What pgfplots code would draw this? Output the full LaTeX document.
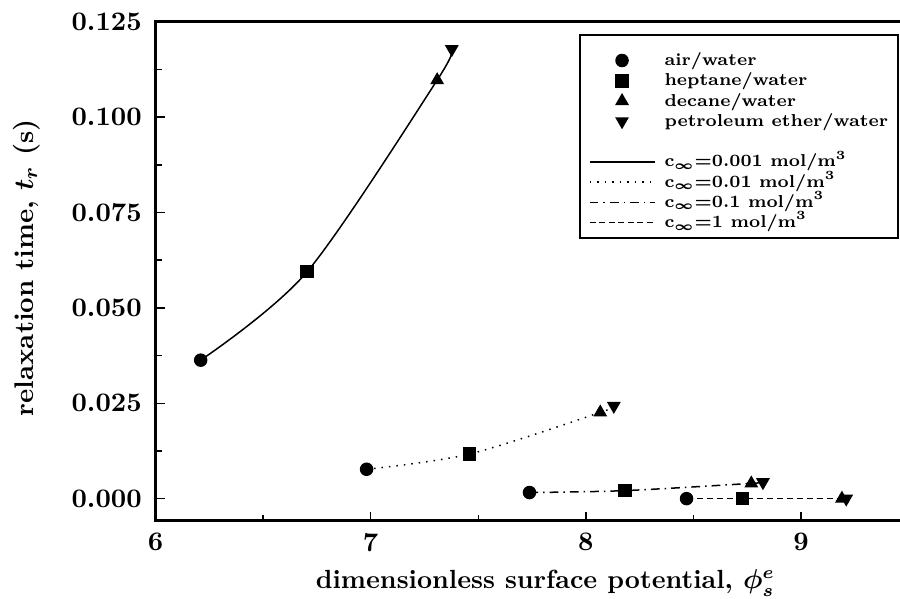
\documentclass[border=0pt]{standalone}
\usepackage{pgfplots}
\pgfplotsset{compat=1.18}
\usetikzlibrary{calc}

\begin{document}
\begin{tikzpicture}
\begin{axis}[
    scale only axis,
    width=297.8pt,
    height=199.6pt,
    xmin=6, xmax=9.46,
    ymin=-0.0058, ymax=0.125,
    xtick={6,7,8,9},
    ytick={0,0.025,0.05,0.075,0.1,0.125},
    minor x tick num=1,
    minor y tick num=1,
    tick pos=left,
    tick align=inside,
    major tick length=3.6pt,
    minor tick length=2.4pt,
    every tick/.style={black, line width=0.6pt},
    scaled y ticks=false,
    yticklabel style={/pgf/number format/fixed, /pgf/number format/fixed zerofill,
        /pgf/number format/precision=3, xshift=-2pt},
    /pgf/number format/assume math mode=true,
    ticklabel style={font=\fontsize{10.7}{12}\selectfont\bfseries},
    xticklabel style={yshift=-1.5pt},
    axis line style={draw=none},
    xlabel={dimensionless surface potential, $\phi_s^e$},
    ylabel={relaxation time, $t_r$ (s)},
    xlabel style={font=\fontsize{10.5}{12}\selectfont\bfseries\boldmath,
        at={(axis description cs:0.2035,-0.1348)}, anchor=base west},
    ylabel style={font=\fontsize{10.8}{12}\selectfont\bfseries\boldmath,
        at={(axis description cs:-0.1645,0.1919)}, anchor=base west},
    legimg/.style={legend image code/.code={%
        \pgfpathmoveto{\pgfpoint{0pt}{-2pt}}\pgfpathlineto{\pgfpoint{26pt}{2pt}}\pgfusepath{discard}%
        \draw[mark repeat=2,mark phase=2,##1] plot coordinates {(0pt,0pt) (13pt,0pt) (26pt,0pt)};}},
    legempty/.style={legend image code/.code={%
        \pgfpathmoveto{\pgfpoint{0pt}{-2pt}}\pgfpathlineto{\pgfpoint{26pt}{2pt}}\pgfusepath{discard}}},
    legimg,
    legend style={at={(0.5813,0.9434)}, anchor=north west, draw=none, fill=none,
        font=\fontsize{6.9}{8}\selectfont\bfseries\boldmath, inner xsep=0pt, inner ysep=0pt,
        nodes={inner xsep=1.5pt, inner ysep=0.5pt, text height=5.5pt, text depth=1.5pt},
        row sep=0.1pt, column sep=2.2pt},
    legend cell align=left,
    every axis plot/.append style={line width=0.6pt},
    mark size=2.4pt,
]
% curves, one per bulk concentration
\addplot[black, smooth, forget plot] coordinates {(6.21,0.0363) (6.705,0.0595) (7.309,0.1097) (7.377,0.1178)};
\addplot[black, smooth, dash pattern=on 0.6pt off 2.4pt, forget plot] coordinates {(6.981,0.0077) (7.46,0.0117) (8.067,0.0226) (8.13,0.0243)};
\addplot[black, smooth, dash pattern=on 3.5pt off 2pt on 0.6pt off 2pt, forget plot] coordinates {(7.738,0.0016) (8.181,0.0021) (8.769,0.0040) (8.823,0.0043)};
\addplot[black, smooth, dash pattern=on 2.4pt off 1.6pt, forget plot] coordinates {(8.468,0.0000) (8.727,0.0000) (9.19,0.0000) (9.21,0.0000)};
% markers, one per interface
\addplot[black, only marks, mark=*, forget plot] coordinates {(6.21,0.0363) (6.981,0.0077) (7.738,0.0016) (8.468,0.0000)};
\addplot[black, only marks, mark=square*, forget plot] coordinates {(6.705,0.0595) (7.46,0.0117) (8.181,0.0021) (8.727,0.0000)};
\addplot[black, only marks, mark=triangle*, mark size=2.6pt, forget plot] coordinates {(7.309,0.1097) (8.067,0.0226) (8.769,0.0040) (9.19,0.0000)};
\addplot[black, only marks, mark=triangle*, mark size=2.6pt, mark options={rotate=180}, forget plot] coordinates {(7.377,0.1178) (8.13,0.0243) (8.823,0.0043) (9.21,0.0000)};
% legend
\addlegendimage{black, only marks, mark=*, legimg}
\addlegendentry{air/water}
\addlegendimage{black, only marks, mark=square*, legimg}
\addlegendentry{heptane/water}
\addlegendimage{black, only marks, mark=triangle*, mark size=2.6pt, legimg}
\addlegendentry{decane/water}
\addlegendimage{black, only marks, mark=triangle*, mark size=2.6pt, mark options={rotate=180}, legimg}
\addlegendentry{petroleum ether/water}
\addlegendimage{legempty}
\addlegendentry{}
\addlegendimage{black, line width=0.6pt}
\addlegendentry{c$_\infty$=0.001 mol/m$^3$}
\addlegendimage{black, line width=0.6pt, dash pattern=on 0.6pt off 2.4pt}
\addlegendentry{c$_\infty$=0.01 mol/m$^3$}
\addlegendimage{black, line width=0.6pt, dash pattern=on 3.5pt off 2pt on 0.6pt off 2pt}
\addlegendentry{c$_\infty$=0.1 mol/m$^3$}
\addlegendimage{black, line width=0.6pt, dash pattern=on 2.4pt off 1.4pt}
\addlegendentry{c$_\infty$=1 mol/m$^3$}
\end{axis}
\draw[line width=1.1pt] ($(current axis.north east)+(1pt,0)$) -- (current axis.north west) -- (current axis.south west) -- ($(current axis.south east)+(1pt,0)$);
% legend frame
\draw[line width=0.7pt] ($(current axis.south west)+(169.8pt,113.1pt)$) rectangle ($(current axis.south west)+(297pt,194.3pt)$);
\pgfresetboundingbox
\useasboundingbox ($(current axis.south west)+(-62.2pt,-30.9pt)$) rectangle ($(current axis.north east)+(0,8.7pt)$);
\end{tikzpicture}
\end{document}
